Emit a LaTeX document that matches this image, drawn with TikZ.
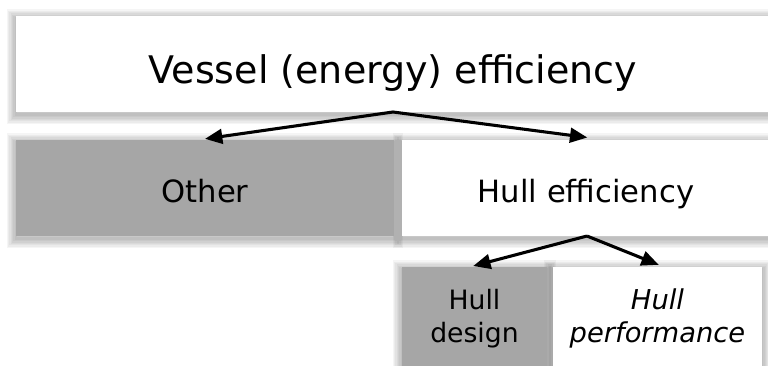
\documentclass[tikz,border=0pt]{standalone}
\usepackage{fontspec}
\setmainfont{DejaVu Sans}
\usetikzlibrary{arrows.meta,backgrounds}
\definecolor{boxgray}{HTML}{A6A6A6}
\tikzset{
  box/.style={rectangle, inner sep=0pt, outer sep=0pt, draw=none, align=center},
  graybox/.style={box, fill=boxgray},
  whitebox/.style={box, fill=white},
  arr/.style={-{Triangle[length=13pt,width=11pt]}, line width=2.3pt, black, shorten >=-1pt},
  glow/.style={black, opacity=0.04},
}
\begin{document}
\begin{tikzpicture}[x=0.75pt,y=-0.75pt]
\useasboundingbox (0,0) rectangle (768,365);
\node[whitebox, minimum width=565.5pt, minimum height=72pt, text height=29pt, text depth=0pt, font=\fontsize{28.5}{34}\selectfont] (top) at (393,64) {Vessel (energy) efficiency};
\node[graybox, minimum width=283.5pt, minimum height=72pt, text height=22pt, text depth=0pt, font=\fontsize{23}{28}\selectfont] (other) at (205,188) {Other};
\node[whitebox, minimum width=276pt, minimum height=72pt, text height=22pt, text depth=0pt, font=\fontsize{23}{28}\selectfont] (hulleff) at (586,188) {Hull efficiency};
\node[graybox, minimum width=108.75pt, minimum height=77.25pt, font=\fontsize{20}{25}\selectfont] (design) at (474.5,318.5) {Hull\\design};
\node[whitebox, minimum width=156.75pt, minimum height=77.25pt, font=\fontsize{20.5}{25}\selectfont\itshape] (perf) at (657.5,318.5) {Hull\\performance};
\begin{scope}[on background layer]
  \foreach \n in {top,other,hulleff,design,perf}{
    \foreach \w in {14,12,10,8,6,4,2}{
      \draw[glow, line width=\w pt] ([yshift=-2pt]\n.south west) rectangle ([yshift=-2pt]\n.north east);
    }
  }
\end{scope}
\coordinate (apex1) at (393,112);
\coordinate (apex2) at (587,236);
\draw[arr] (apex1) -- ([xshift=1pt,yshift=1pt]other.north);
\draw[arr] (apex1) -- ([yshift=2pt]hulleff.north);
\draw[arr] (apex2) -- ([xshift=0pt,yshift=1pt]design.north);
\draw[arr] (apex2) -- ([xshift=0pt,yshift=2pt]perf.north);
\end{tikzpicture}
\end{document}
